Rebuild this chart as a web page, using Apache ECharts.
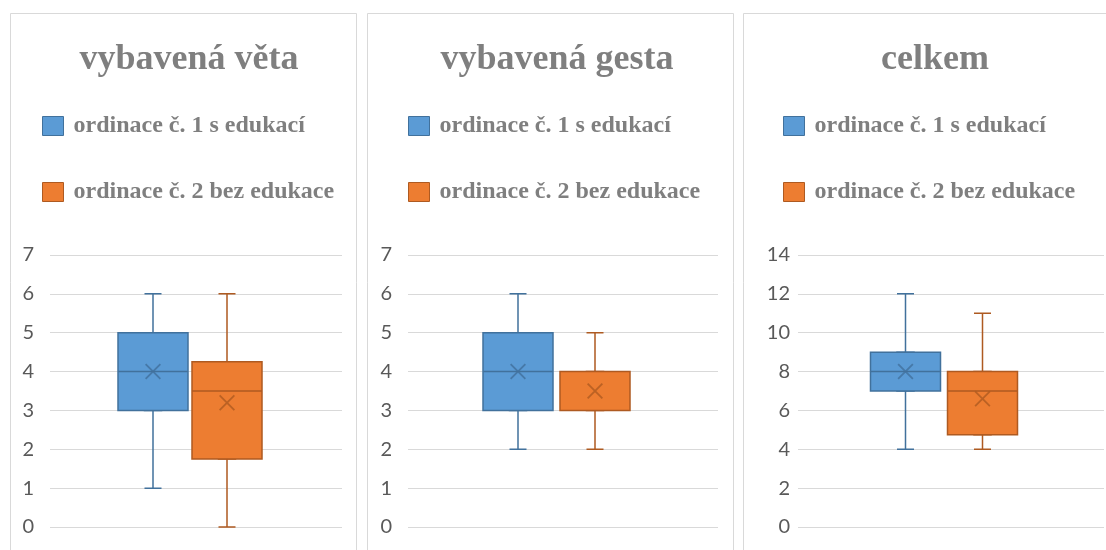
<!DOCTYPE html>
<html>
<head>
<meta charset="utf-8">
<script src="https://cdn.jsdelivr.net/npm/echarts@6/dist/echarts.min.js"></script>
<style>
html, body { margin: 0; padding: 0; background: #fff; }
#chart { width: 1106px; height: 550px; }
</style>
</head>
<body>
<div id="chart"></div>
<script>
var panelTitles = ['vybavená věta', 'vybavená gesta', 'celkem'];
var seriesNames = ['ordinace č. 1 s edukací', 'ordinace č. 2 bez edukace'];
// [min, Q1, median, Q3, max]
var vetaBox1 = [1, 3, 4, 5, 6];
var vetaBox2 = [0, 1.75, 3.5, 4.25, 6];
var gestaBox1 = [2, 3, 4, 5, 6];
var gestaBox2 = [2, 3, 3, 4, 5];
var celkemBox1 = [4, 7, 8, 9, 12];
var celkemBox2 = [4, 4.75, 7, 8, 11];
// means (the x marks)
var vetaMeans = [4, 3.2];
var gestaMeans = [4, 3.5];
var celkemMeans = [8, 6.6];
var yMaxes = [7, 7, 14];
var ySteps = [1, 1, 2];

var boxes = [[vetaBox1, vetaBox2], [gestaBox1, gestaBox2], [celkemBox1, celkemBox2]];
var means = [vetaMeans, gestaMeans, celkemMeans];

var fills = ['#5b9bd5', '#ed7d31'];
var borders = ['#41719c', '#ae5a21'];
var W = 1106, H = 550;
var plotTop = 255, plotBottom = 23;

// panel geometry
var panels = [
    { frame: [10, 346], titleX: 189, legendX: 42, plot: [50, 342], centers: [153, 227], margin: 16 },
    { frame: [367, 366], titleX: 557, legendX: 408, plot: [408, 718], centers: [518, 595], margin: 16 },
    { frame: [743, 400], titleX: 935, legendX: 783, plot: [798, 1104], centers: [905.5, 982.5], margin: 8 }
];

var xMark = 'path://M0,0.8L0.8,0L10,9.2L9.2,10ZM9.2,0L10,0.8L0.8,10L0,9.2Z';

var option = {
    animation: false,
    backgroundColor: '#fff',
    title: [],
    legend: [],
    grid: [],
    xAxis: [],
    yAxis: [],
    series: [],
    graphic: []
};

panels.forEach(function (p, i) {
    option.graphic.push({
        type: 'rect',
        silent: true,
        shape: { x: p.frame[0] + 0.5, y: 13.5, width: p.frame[1], height: 600 },
        style: { fill: 'none', stroke: '#d9d9d9', lineWidth: 1 }
    });
    option.title.push({
        text: panelTitles[i],
        left: p.titleX,
        top: 42,
        padding: 0,
        textAlign: 'center',
        textStyle: { fontFamily: 'Liberation Serif', fontWeight: 'bold', fontSize: 36, color: '#7f7f7f' }
    });
    option.legend.push({
        orient: 'vertical',
        left: p.legendX,
        top: 114,
        padding: 0,
        itemGap: 42,
        itemWidth: 21,
        itemHeight: 19,
        selectedMode: false,
        icon: 'rect',
        textStyle: { fontFamily: 'Liberation Serif', fontWeight: 'bold', fontSize: 24, color: '#7f7f7f', padding: [0, 0, 0, 5] },
        data: seriesNames.map(function (n, j) {
            return { name: n, itemStyle: { color: fills[j], borderColor: borders[j], borderWidth: 1 } };
        })
    });

    // axis grid with labels and gridlines
    var g = option.grid.length;
    option.grid.push({ left: p.plot[0], right: W - p.plot[1], top: plotTop, bottom: plotBottom });
    option.xAxis.push({ gridIndex: g, type: 'category', data: [''], show: false });
    option.yAxis.push({
        gridIndex: g, type: 'value', min: 0, max: yMaxes[i], interval: ySteps[i],
        axisLine: { show: false }, axisTick: { show: false },
        axisLabel: { color: '#595959', fontFamily: 'Lato', fontSize: 20, margin: p.margin },
        splitLine: { lineStyle: { color: '#d9d9d9', width: 1 } }
    });

    var bw = p.centers[1] - p.centers[0];
    p.centers.forEach(function (c, j) {
        var gi = option.grid.length;
        option.grid.push({ left: c - bw / 2, width: bw, top: plotTop, bottom: plotBottom });
        var xw = option.xAxis.length;
        option.xAxis.push({ gridIndex: gi, type: 'category', data: [''], show: false });
        option.xAxis.push({ gridIndex: gi, type: 'category', data: [''], show: false });
        var yi = option.yAxis.length;
        option.yAxis.push({ gridIndex: gi, type: 'value', min: 0, max: yMaxes[i], show: false });

        var b = boxes[i][j];
        // whiskers with short caps
        option.series.push({
            name: seriesNames[j],
            type: 'boxplot',
            xAxisIndex: xw, yAxisIndex: yi,
            boxWidth: [17, 17],
            z: 2,
            silent: true,
            itemStyle: { color: fills[j], borderColor: borders[j], borderWidth: 1.5 },
            data: [b]
        });
        // box body
        option.series.push({
            name: seriesNames[j],
            type: 'boxplot',
            xAxisIndex: xw + 1, yAxisIndex: yi,
            boxWidth: [70, 70],
            z: 3,
            silent: true,
            itemStyle: { color: fills[j], borderColor: borders[j], borderWidth: 1.5 },
            data: [[b[1], b[1], b[2], b[3], b[3]]]
        });
        // mean mark
        option.series.push({
            name: seriesNames[j],
            type: 'scatter',
            xAxisIndex: xw + 1, yAxisIndex: yi,
            z: 4,
            silent: true,
            symbol: xMark,
            symbolSize: 16,
            itemStyle: { color: borders[j] },
            data: [[0, means[i][j]]]
        });
    });
});

var chart = echarts.init(document.getElementById('chart'));
chart.setOption(option);
</script>
</body>
</html>
